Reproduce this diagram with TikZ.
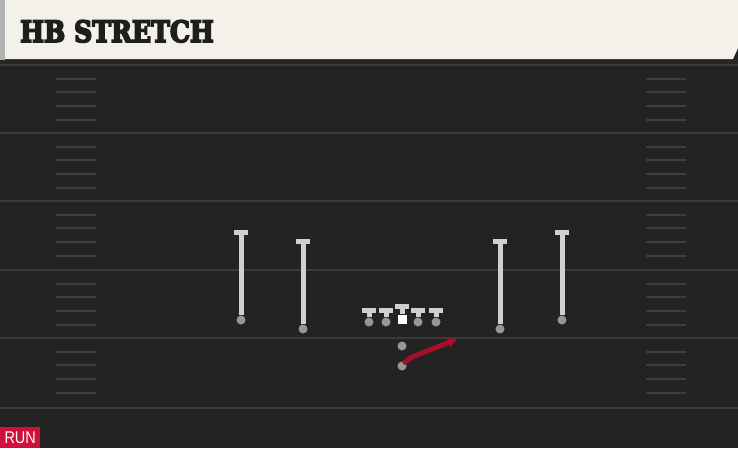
\documentclass[tikz,border=0pt]{standalone}
\usepackage{fontspec}
\newfontfamily\titlefont{DejaVu Serif}[BoldFeatures={FakeBold=6}]
\newfontfamily\tagfont{Liberation Sans}
\usepackage{tikz}
\usetikzlibrary{arrows.meta,positioning}
\usepackage{xcolor}
\definecolor{turf}{HTML}{232323}
\definecolor{paper}{HTML}{F4F1EA}
\definecolor{runred}{HTML}{A3102A}
\definecolor{tagred}{HTML}{D0103A}

\begin{document}
\begin{tikzpicture}[x=1pt,y=-1pt]
    %styles
    \tikzstyle{yard}=[draw={rgb,255:red,58;green,58;blue,58},line width=2pt]
    \tikzstyle{hash}=[draw={rgb,255:red,62;green,62;blue,62},line width=2pt]
    \tikzstyle{player}=[circle,fill={rgb,255:red,150;green,150;blue,150},inner sep=0pt,minimum size=9pt]
    \tikzstyle{centre}=[rectangle,fill=white,inner sep=0pt,minimum size=9pt]
    \tikzstyle{block}=[draw={rgb,255:red,208;green,208;blue,208},line width=5pt,-{Bar[width=14pt,line width=4.5pt]}]
    \tikzstyle{run}=[draw=runred,line width=5pt,line cap=round,-{Stealth[length=10pt,width=11pt]}]
    \useasboundingbox (0,0) rectangle (738,448);
    %field
    \fill[turf] (0,0) rectangle (738,448);
    \foreach \y in {65,133,201,270,338,408}
        \draw[yard] (0,\y) -- (738,\y);
    \foreach \y in {65,133,201,270,338}
        \foreach \k in {1,...,4} {
            \draw[hash] (56,{\y+13.7*\k}) -- (96,{\y+13.7*\k});
            \draw[hash] (646,{\y+13.7*\k}) -- (686,{\y+13.7*\k});
        }
    %header
    \fill[black!85] (0,59) rectangle (738,64);
    \fill[paper] (4,0) -- (738,0) -- (738,48) -- (733,59) -- (4,59) -- cycle;
    \fill[black!30] (0,0) rectangle (5,60);
    \node[anchor=base west,inner sep=0pt,text={rgb,255:red,30;green,30;blue,30}] (title) at (20,42)
        {\scalebox{0.9}[1.05]{\titlefont\bfseries\fontsize{28}{30}\selectfont HB STRETCH}};
    %nodes
    \node[player] (wr1) at (241,320) {};
    \node[player] (wr2) at (303,329) {};
    \node[player] (wr3) at (500,329) {};
    \node[player] (wr4) at (562,320) {};
    \node[player] (lt) at (369,322) {};
    \node[player] (lg) at (386,322) {};
    \node[centre] (c) at (402,319) {};
    \node[player] (rg) at (418,322) {};
    \node[player] (rt) at (436,322) {};
    \node[player] (qb) at (402,346) {};
    \node[player] (hb) at (402,366) {};
    \coordinate (wr1e) at (241,230);
    \coordinate (wr2e) at (303,239);
    \coordinate (wr3e) at (500,239);
    \coordinate (wr4e) at (562,230);
    \coordinate (lte) at (369,308);
    \coordinate (lge) at (386,308);
    \coordinate (ce) at (402,304);
    \coordinate (rge) at (418,308);
    \coordinate (rte) at (436,308);
    \coordinate (hbe) at (457,339);
    \node[anchor=south west,fill=tagred,text=white,minimum width=40pt,minimum height=21pt,inner sep=0pt] (tag) at (0,448)
        {\scalebox{0.85}[1]{\tagfont\fontsize{17}{17}\selectfont RUN}};
    %arraws
    \foreach \p in {wr1,wr2,wr3,wr4,lt,lg,c,rg,rt}
        \draw[block] (\p) -- (\p e);
    \draw[run] (hb) .. controls (409,357) and (416,356) .. (hbe);
\end{tikzpicture}
\end{document}
